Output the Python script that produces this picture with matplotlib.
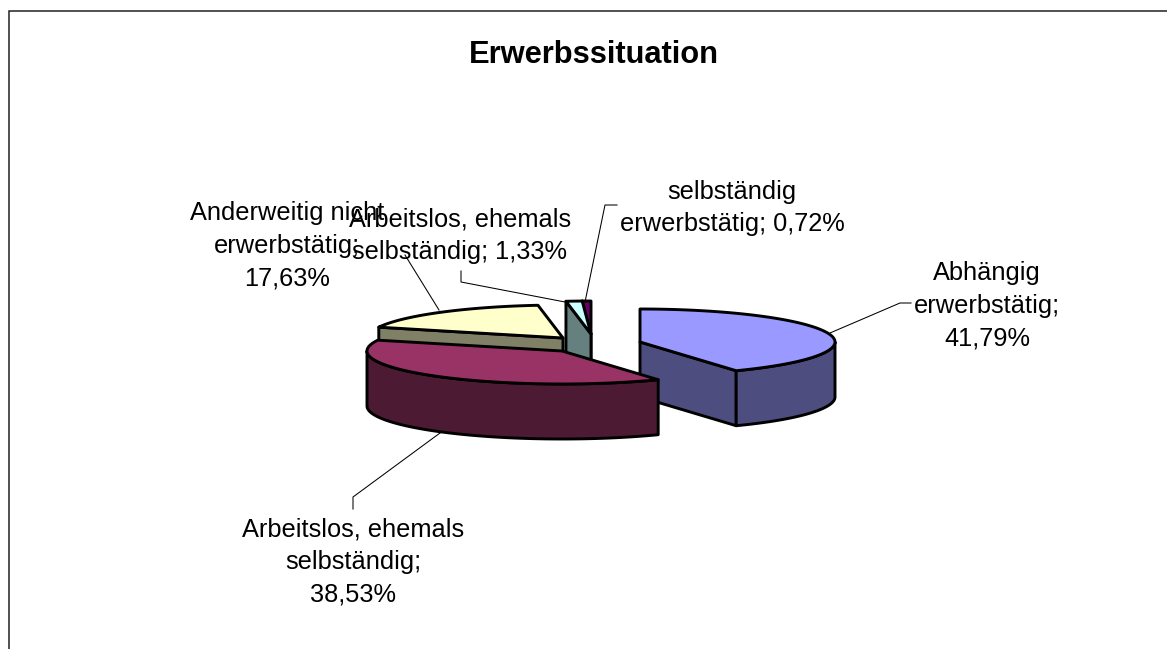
import numpy as np
import matplotlib
matplotlib.use("Agg")
import matplotlib.pyplot as plt
from matplotlib.patches import Polygon

plt.rcParams['font.family'] = ['Liberation Sans', 'DejaVu Sans']

# Data
categories = ["Abhängig erwerbstätig", "Arbeitslos, ehemals selbständig",
              "Anderweitig nicht erwerbstätig", "Arbeitslos, ehemals selbständig",
              "selbständig erwerbstätig"]
values = [41.79, 38.53, 17.63, 1.33, 0.72]
label_texts = ["Abhängig\nerwerbstätig;\n41,79%",
               "Arbeitslos, ehemals\nselbständig;\n38,53%",
               "Anderweitig nicht\nerwerbstätig;\n17,63%",
               "Arbeitslos, ehemals\nselbständig; 1,33%",
               "selbständig\nerwerbstätig; 0,72%"]
title = "Erwerbssituation"

# Styles / layout (pixel space)
top_colors = ["#9999FF", "#993366", "#FFFFCC", "#CCFFFF", "#660066"]
side_colors = ["#4D4D80", "#4D1A33", "#808066", "#668080", "#330033"]
centers = [(640, 342), (562, 351), (563, 338), (591, 334), (591, 334)]
label_pos = [(987, 306), (353, 562), (287, 246), (460, 235.5), (732, 208)]
leaders = [[(830, 333), (900, 303), (911, 303)],
           [(440, 433), (353, 497), (353, 509)],
           [(439, 310), (405, 255)],
           [(565, 302), (461, 282), (461, 271)],
           [(585, 302), (605, 205), (617, 205)]]
draw_order = [4, 3, 2, 0, 1]
RX, RY, DEPTH = 195, 33, 55
EDGE = 2.1

W, H = 1167, 649
fig = plt.figure(figsize=(W / 100, H / 100), dpi=100, facecolor="white")
ax = fig.add_axes([0, 0, 1, 1])
ax.set_xlim(0, W)
ax.set_ylim(H, 0)
ax.axis("off")


def pt(c, a, dy=0.0):
    r = np.radians(a)
    return np.column_stack([c[0] + RX * np.sin(r), c[1] - RY * np.cos(r) + dy])


def poly(xy, color, z):
    ax.add_patch(Polygon(xy, closed=True, facecolor=color, edgecolor="black",
                         linewidth=EDGE, joinstyle="round", zorder=z))


edges = np.concatenate([[0], np.cumsum(values)]) / sum(values) * 360

for k, i in enumerate(draw_order):
    a0, a1 = edges[i], edges[i + 1]
    c = centers[i]
    base = 2 + k
    ca = np.array([c])
    cb = np.array([[c[0], c[1] + DEPTH]])
    # visible cut faces
    if np.sin(np.radians(a0)) < 0:
        p = pt(c, np.array([a0]))
        poly(np.vstack([ca, p, p + [0, DEPTH], cb]), side_colors[i], base)
    if np.sin(np.radians(a1)) > 0:
        p = pt(c, np.array([a1]))
        poly(np.vstack([ca, p, p + [0, DEPTH], cb]), side_colors[i], base)
    # visible outer rim (front half of the ellipse)
    lo, hi = max(a0, 90), min(a1, 270)
    if hi > lo:
        t = np.linspace(lo, hi, 80)
        poly(np.vstack([pt(c, t), pt(c, t[::-1], DEPTH)]), side_colors[i], base)
    # top face
    t = np.linspace(a0, a1, 120)
    poly(np.vstack([ca, pt(c, t)]), top_colors[i], base + 0.5)

for (lx, ly), txt, seg in zip(label_pos, label_texts, leaders):
    s = np.array(seg)
    ax.plot(s[:, 0], s[:, 1], color="black", lw=0.75, zorder=20)
    ax.text(lx, ly, txt, ha="center", va="center", fontsize=18.3, color="black",
            linespacing=1.47, multialignment="center", zorder=21)

ax.text(593.5, 55, title, ha="center", va="center", fontsize=22.2,
        fontweight="bold", color="black", zorder=21)

# Chart-area border (cropped at right and bottom)
ax.plot([8.5, 8.5, W], [H, 10.5, 10.5], color="#222222", lw=1.1, zorder=1,
        solid_joinstyle="miter")

fig.savefig("out.png", dpi=100, facecolor="white")
